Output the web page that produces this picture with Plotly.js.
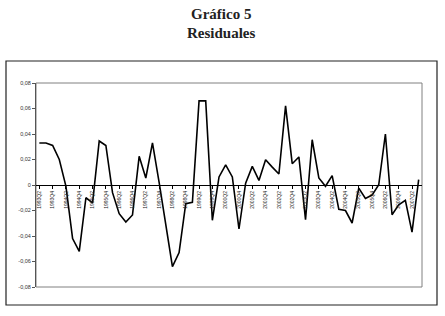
<!DOCTYPE html>
<html>
<head>
<meta charset="utf-8">
<script src="https://cdn.plot.ly/plotly-3.0.1.min.js"></script>
<style>
  html, body { margin: 0; padding: 0; background: #ffffff; }
  #chart { width: 445px; height: 316px; }
</style>
</head>
<body>
<div id="chart"></div>
<script>
var quarters = [
  "1993Q2","1993Q3","1993Q4",
  "1994Q1","1994Q2","1994Q3","1994Q4",
  "1995Q1","1995Q2","1995Q3","1995Q4",
  "1996Q1","1996Q2","1996Q3","1996Q4",
  "1997Q1","1997Q2","1997Q3","1997Q4",
  "1998Q1","1998Q2","1998Q3","1998Q4",
  "1999Q1","1999Q2","1999Q3","1999Q4",
  "2000Q1","2000Q2","2000Q3","2000Q4",
  "2001Q1","2001Q2","2001Q3","2001Q4",
  "2002Q1","2002Q2","2002Q3","2002Q4",
  "2003Q1","2003Q2","2003Q3","2003Q4",
  "2004Q1","2004Q2","2004Q3","2004Q4",
  "2005Q1","2005Q2","2005Q3","2005Q4",
  "2006Q1","2006Q2","2006Q3","2006Q4",
  "2007Q1","2007Q2","2007Q3"
];

var residuales = [
  0.033, 0.033, 0.031,
  0.020, -0.001, -0.042, -0.052,
  -0.010, -0.014, 0.0345, 0.031,
  -0.006, -0.0225, -0.029, -0.0235,
  0.0225, 0.0055, 0.033, 0.002,
  -0.030, -0.064, -0.053, -0.0147,
  -0.0136, 0.066, 0.066, -0.0277,
  0.0063, 0.0157, 0.0063, -0.0345,
  0.0015, 0.0146, 0.0036, 0.0198,
  0.014, 0.0086, 0.062, 0.0167,
  0.022, -0.0272, 0.0355, 0.0055,
  -0.001, 0.0073, -0.019, -0.020,
  -0.0298, -0.0024, -0.0105, -0.0079,
  0.0002, 0.040, -0.0233, -0.0155,
  -0.012, -0.0369, 0.0042
];

var xTickLabels = [
  "1993Q2","1993Q4","1994Q2","1994Q4","1995Q2","1995Q4","1996Q2","1996Q4",
  "1997Q2","1997Q4","1998Q2","1998Q4","1999Q2","1999Q4","2000Q2","2000Q4",
  "2001Q2","2001Q4","2002Q2","2002Q4","2003Q2","2003Q4","2004Q2","2004Q4",
  "2005Q2","2005Q4","2006Q2","2006Q4","2007Q2"
];

var yTickValues = [-0.08, -0.06, -0.04, -0.02, 0, 0.02, 0.04, 0.06, 0.08];
var yTickLabels = ["-0,08", "-0,06", "-0,04", "-0,02", "0", "0,02", "0,04", "0,06", "0,08"];

var titleLines = ["Gráfico 5", "Residuales"];

var W = 445, H = 316;
var M = { l: 36, r: 23, t: 83, b: 29 };
var pw = W - M.l - M.r, ph = H - M.t - M.b;
function px2x(p) { return (p - M.l) / pw; }
function px2y(p) { return (H - M.b - p) / ph; }

var trace = {
  type: "scatter",
  mode: "lines",
  x: quarters,
  y: residuales,
  line: { color: "#000000", width: 1.6 },
  hoverinfo: "x+y"
};

var titleFont = { family: "Liberation Serif, serif", size: 15, color: "#222222" };

var layout = {
  width: W,
  height: H,
  margin: M,
  paper_bgcolor: "#ffffff",
  plot_bgcolor: "#ffffff",
  showlegend: false,
  xaxis: {
    type: "category",
    range: [-0.5, quarters.length - 0.5],
    anchor: "free",
    position: 0.5,
    showline: true,
    linecolor: "#000000",
    linewidth: 1,
    showgrid: false,
    zeroline: false,
    tickmode: "array",
    tickvals: xTickLabels,
    ticktext: xTickLabels,
    tickangle: -90,
    ticks: "outside",
    ticklen: 3,
    tickcolor: "#000000",
    tickfont: { family: "Liberation Sans, Arial, sans-serif", size: 5, color: "#222222" },
    fixedrange: true
  },
  yaxis: {
    range: [-0.08, 0.08],
    tickmode: "array",
    tickvals: yTickValues,
    ticktext: yTickLabels,
    showline: true,
    linecolor: "#555555",
    linewidth: 1,
    ticks: "outside",
    ticklen: 3,
    tickcolor: "#555555",
    showgrid: false,
    zeroline: false,
    tickfont: { family: "Liberation Sans, Arial, sans-serif", size: 5.5, color: "#333333" },
    fixedrange: true
  },
  annotations: [
    {
      text: "<b>" + titleLines[0] + "</b>", showarrow: false,
      xref: "paper", yref: "paper", x: px2x(221), y: px2y(14),
      xanchor: "center", yanchor: "middle", font: titleFont
    },
    {
      text: "<b>" + titleLines[1] + "</b>", showarrow: false,
      xref: "paper", yref: "paper", x: px2x(221), y: px2y(33),
      xanchor: "center", yanchor: "middle", font: titleFont
    }
  ],
  shapes: [
    {
      type: "rect", xref: "paper", yref: "paper",
      x0: 0, x1: 1, y0: 0, y1: 1,
      line: { color: "#808080", width: 1 }, layer: "below"
    },
    {
      type: "rect", xref: "paper", yref: "paper",
      x0: px2x(6), x1: px2x(437), y0: px2y(305), y1: px2y(61),
      line: { color: "#222222", width: 1.2 }, layer: "below"
    }
  ]
};

Plotly.newPlot("chart", [trace], layout, { displayModeBar: false, staticPlot: true });
</script>
</body>
</html>
